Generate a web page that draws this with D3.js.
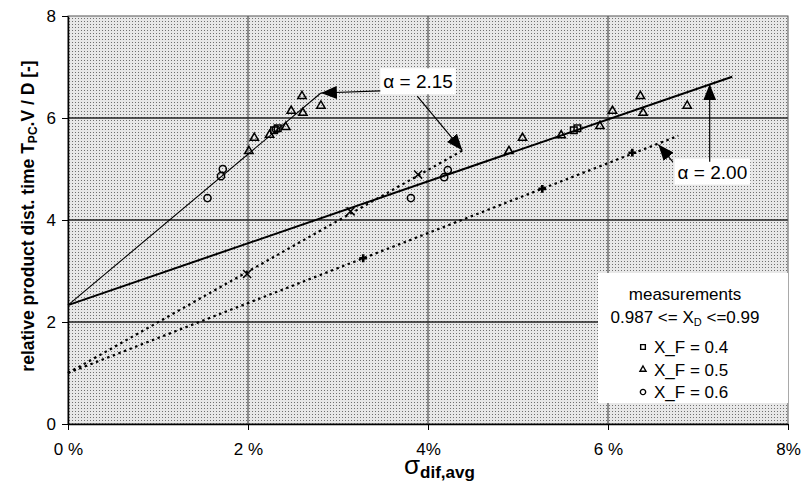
<!DOCTYPE html>
<html>
<head>
<meta charset="utf-8">
<script src="https://cdn.jsdelivr.net/npm/d3@7"></script>
<style>
    body { margin: 0; background: #fff; }
    text { font-family: "Liberation Sans", Arial, sans-serif; fill: #000; }
</style>
</head>
<body>
<svg id="grafico"></svg>
<script>
const WIDTH = 809,
    HEIGHT = 483;

const margin = {
    top: 16,
    bottom: 59,
    right: 21,
    left: 68
};

// ejes
const xTicks = [0, 0.02, 0.04, 0.06, 0.08];
const xTickLabels = ["0 %", "2 %", "4%", "6 %", "8%"];
const yTicks = [0, 2, 4, 6, 8];

// rectas de ajuste
const lineaAlpha215 = [[0, 2.33], [0.0281, 6.49]];
const lineaAlpha200 = [[0, 2.33], [0.0738, 6.81]];
const punteadaAlpha215 = [[0, 1.0], [0.0439, 5.37]];
const punteadaAlpha200 = [[0, 1.0], [0.0678, 5.65]];

// puntos sobre las rectas punteadas
const puntosCruz = [[0.0199, 2.94], [0.0314, 4.17], [0.0389, 4.89]];
const puntosMas = [[0.0328, 3.25], [0.0527, 4.61], [0.0627, 5.32]];

// mediciones
const medicionesXF04 = [[0.0229, 5.76], [0.0233, 5.80], [0.0562, 5.76], [0.0566, 5.80]];
const medicionesXF05 = [
    [0.0201, 5.35], [0.0207, 5.61], [0.0224, 5.67], [0.0242, 5.82], [0.0248, 6.14],
    [0.0261, 6.10], [0.0260, 6.43], [0.0281, 6.24],
    [0.0490, 5.35], [0.0505, 5.61], [0.0548, 5.66], [0.0591, 5.84], [0.0605, 6.14],
    [0.0636, 6.43], [0.0639, 6.10], [0.0688, 6.24]
];
const medicionesXF06 = [
    [0.0155, 4.43], [0.0170, 4.86], [0.0172, 5.00], [0.0231, 5.78],
    [0.0381, 4.43], [0.0418, 4.84], [0.0422, 4.98]
];

const legendTitle = "measurements";
const legendItems = ["X_F = 0.4", "X_F = 0.5", "X_F = 0.6"];
const legendSymbols = ["square", "triangle", "circle"];

// anotaciones (en coordenadas de datos)
const etiquetas = [
    {texto: "α = 2.15", x: 0.0389, y: 6.72},
    {texto: "α = 2.00", x: 0.0716, y: 4.95}
];
const flechas = [
    [[0.0347, 6.53], [0.0281, 6.49]],
    [[0.0388, 6.43], [0.0438, 5.37]],
    [[0.0713, 5.14], [0.0713, 6.66]],
    [[0.0672, 5.14], [0.0656, 5.48]]
];

const svg = d3.select("#grafico")
    .attr("width", WIDTH)
    .attr("height", HEIGHT);

const escalaX = d3.scaleLinear()
    .domain([0, 0.08])
    .range([margin.left, WIDTH - margin.right]);

const escalaY = d3.scaleLinear()
    .domain([0, 8])
    .range([HEIGHT - margin.bottom, margin.top]);

const defs = svg.append("defs");

// fondo punteado
const patron = defs.append("pattern")
    .attr("id", "puntos")
    .attr("width", 3)
    .attr("height", 3)
    .attr("patternUnits", "userSpaceOnUse");
patron.append("rect").attr("width", 3).attr("height", 3).attr("fill", "#e8e8e8");
patron.append("rect").attr("width", 1).attr("height", 1).attr("fill", "#707070");

defs.append("marker")
    .attr("id", "punta")
    .attr("viewBox", "0 0 16 13")
    .attr("refX", 16)
    .attr("refY", 6.5)
    .attr("markerWidth", 16)
    .attr("markerHeight", 13)
    .attr("markerUnits", "userSpaceOnUse")
    .attr("orient", "auto")
    .append("path")
    .attr("d", "M0,0 L16,6.5 L0,13 Z")
    .attr("fill", "#000");

svg.append("rect")
    .attr("x", escalaX(0))
    .attr("y", escalaY(8))
    .attr("width", escalaX(0.08) - escalaX(0))
    .attr("height", escalaY(0) - escalaY(8))
    .attr("fill", "url(#puntos)");

// grilla
svg.append("g")
    .selectAll("line")
    .data(yTicks.filter(d => d > 0 && d < 8))
    .join("line")
    .attr("x1", escalaX(0))
    .attr("x2", escalaX(0.08))
    .attr("y1", d => escalaY(d))
    .attr("y2", d => escalaY(d))
    .attr("stroke", "#222")
    .attr("stroke-width", 1.4);

svg.append("g")
    .selectAll("line")
    .data(xTicks.filter(d => d > 0 && d < 0.08))
    .join("line")
    .attr("x1", d => escalaX(d))
    .attr("x2", d => escalaX(d))
    .attr("y1", escalaY(0))
    .attr("y2", escalaY(8))
    .attr("stroke", "#333")
    .attr("stroke-width", 1);

svg.append("rect")
    .attr("x", escalaX(0))
    .attr("y", escalaY(8))
    .attr("width", escalaX(0.08) - escalaX(0))
    .attr("height", escalaY(0) - escalaY(8))
    .attr("fill", "none")
    .attr("stroke", "#555")
    .attr("stroke-width", 1);

// ejes
const ejeY = svg.append("g")
    .attr("transform", `translate(${escalaX(0)} 0)`)
    .call(d3.axisLeft(escalaY).tickValues(yTicks).tickSize(6).tickPadding(6).tickSizeOuter(0));

const ejeX = svg.append("g")
    .attr("transform", `translate(0 ${escalaY(0)})`)
    .call(d3.axisBottom(escalaX).tickValues(xTicks).tickSize(6).tickPadding(13).tickSizeOuter(0)
        .tickFormat((d, i) => xTickLabels[i]));

[ejeX, ejeY].forEach(eje => {
    eje.select(".domain").attr("stroke", "#000").attr("stroke-width", 1.5);
    eje.selectAll(".tick line").attr("stroke", "#000");
    eje.selectAll("text")
        .attr("font-family", "Liberation Sans, Arial, sans-serif")
        .attr("font-size", 17);
});

// rectas
const linea = d3.line()
    .x(d => escalaX(d[0]))
    .y(d => escalaY(d[1]));

svg.append("path").datum(lineaAlpha215)
    .attr("d", linea).attr("fill", "none").attr("stroke", "#000").attr("stroke-width", 1.1);
svg.append("path").datum(lineaAlpha200)
    .attr("d", linea).attr("fill", "none").attr("stroke", "#000").attr("stroke-width", 2);
[punteadaAlpha215, punteadaAlpha200].forEach(datos => {
    svg.append("path").datum(datos)
        .attr("d", linea).attr("fill", "none").attr("stroke", "#000")
        .attr("stroke-width", 2.2).attr("stroke-dasharray", "2.5,3.5");
});

// marcadores
const simbolo = {
    square: d3.symbol(d3.symbolSquare, 44)(),
    triangle: d3.symbol(d3.symbolTriangle, 30)(),
    circle: d3.symbol(d3.symbolCircle, 40)(),
    cruz: d3.symbol(d3.symbolTimes, 44)(),
    mas: d3.symbol(d3.symbolCross, 34)()
};

const dibujarPuntos = (datos, tipo, relleno) => {
    svg.append("g")
        .selectAll("path")
        .data(datos)
        .join("path")
        .attr("transform", d => `translate(${escalaX(d[0])} ${escalaY(d[1])})`)
        .attr("d", simbolo[tipo])
        .attr("fill", relleno)
        .attr("stroke", "#000")
        .attr("stroke-width", tipo === "mas" ? 0 : 1.5);
};

dibujarPuntos(puntosCruz, "cruz", "#000");
dibujarPuntos(puntosMas, "mas", "#000");
dibujarPuntos(medicionesXF04, "square", "none");
dibujarPuntos(medicionesXF05, "triangle", "none");
dibujarPuntos(medicionesXF06, "circle", "none");

// leyenda
const leyenda = svg.append("g");
leyenda.append("rect")
    .attr("x", 598)
    .attr("y", 273)
    .attr("width", escalaX(0.08) - 598)
    .attr("height", 130)
    .attr("fill", "#fff");

leyenda.append("text")
    .attr("x", 685).attr("y", 300)
    .attr("text-anchor", "middle")
    .attr("font-size", 17)
    .text(legendTitle);

const rango = leyenda.append("text")
    .attr("x", 685).attr("y", 323)
    .attr("text-anchor", "middle")
    .attr("font-size", 17);
rango.append("tspan").text("0.987 <= X");
rango.append("tspan").attr("font-size", 11).attr("dy", 3).text("D");
rango.append("tspan").attr("dy", -3).text(" <=0.99");

const filas = leyenda.selectAll("g.fila")
    .data(legendItems)
    .join("g")
    .attr("class", "fila")
    .attr("transform", (d, i) => `translate(643 ${347 + i * 22.5})`);

filas.append("path")
    .attr("d", (d, i) => d3.symbol(
        legendSymbols[i] === "square" ? d3.symbolSquare :
        legendSymbols[i] === "triangle" ? d3.symbolTriangle : d3.symbolCircle,
        legendSymbols[i] === "triangle" ? 16 : 22)())
    .attr("fill", "none")
    .attr("stroke", "#000")
    .attr("stroke-width", 1.4);

filas.append("text")
    .attr("x", 11)
    .attr("y", 6)
    .attr("font-size", 17)
    .text(d => d);

// anotaciones
etiquetas.forEach(e => {
    const g = svg.append("g");
    const fondo = g.append("rect").attr("fill", "#fff");
    const t = g.append("text")
        .attr("x", escalaX(e.x))
        .attr("y", escalaY(e.y) + 7)
        .attr("text-anchor", "middle")
        .attr("font-size", 19)
        .text(e.texto);
    const b = t.node().getBBox();
    fondo.attr("x", b.x - 3).attr("y", b.y - 3)
        .attr("width", b.width + 6).attr("height", b.height + 5);
});

svg.append("g")
    .selectAll("line")
    .data(flechas)
    .join("line")
    .attr("x1", d => escalaX(d[0][0]))
    .attr("y1", d => escalaY(d[0][1]))
    .attr("x2", d => escalaX(d[1][0]))
    .attr("y2", d => escalaY(d[1][1]))
    .attr("stroke", "#000")
    .attr("stroke-width", 1.2)
    .attr("marker-end", "url(#punta)");

// titulos de ejes
const tituloY = svg.append("text")
    .attr("transform", "translate(34 216) rotate(-90)")
    .attr("text-anchor", "middle")
    .attr("font-size", 17.5)
    .attr("font-weight", "bold");
tituloY.append("tspan").text("relative product dist. time T");
tituloY.append("tspan").attr("font-size", 12).attr("dy", 3).text("PC");
tituloY.append("tspan").attr("dy", -3).text(".V / D [-]");

const tituloX = svg.append("text")
    .attr("x", 404)
    .attr("y", 474)
    .attr("font-weight", "bold");
tituloX.append("tspan").attr("font-size", 26).attr("font-weight", "normal").text("σ");
tituloX.append("tspan").attr("font-size", 17).attr("dy", 4).text("dif,avg");
</script>
</body>
</html>
